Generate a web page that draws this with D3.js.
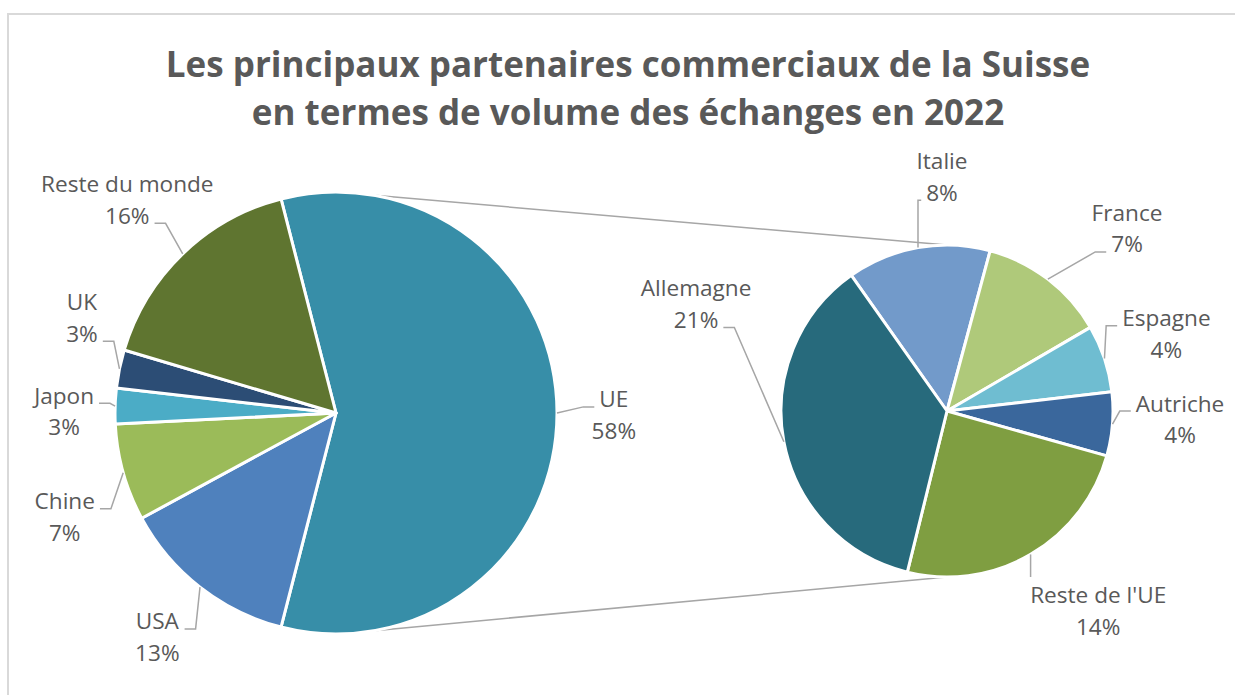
<!DOCTYPE html>
<html>
<head>
<meta charset="utf-8">
<script src="https://cdnjs.cloudflare.com/ajax/libs/d3/7.8.5/d3.min.js"></script>
<style>
    body { margin: 0; background: #fff; }
    svg { display: block; font-family: "Open Sans", "Noto Sans", sans-serif; }
</style>
</head>
<body>
<svg id="chart" width="1235" height="695"></svg>
<script>
// trade volume share 2022, in % of total
var mainNames = ["UE", "USA", "Chine", "Japon", "UK", "Reste du monde"]
var mainValues = [58.0, 13.1, 7.1, 2.6, 2.8, 16.4]
var mainColors = ["#378ea8", "#4f81bd", "#9bbb59", "#4bacc6", "#2c4d75", "#5f7530"]

// the UE slice split up in the second pie
var euNames = ["Italie", "France", "Espagne", "Autriche", "Reste de l'UE", "Allemagne"]
var euValues = [8.1, 7.2, 3.8, 3.6, 14.2, 21.1]
var euColors = ["#729aca", "#afc97a", "#6fbdd1", "#3a679c", "#7f9e41", "#276a7c"]

var titleLines = ["Les principaux partenaires commerciaux de la Suisse",
    "en termes de volume des échanges en 2022"]

// label placement: [angle shift in degrees, distance beyond the pie edge]
var labelShift = {
    "UE": [2.1, 57], "USA": [-0.4, 72], "Chine": [-6.8, 72.5],
    "Japon": [-3.2, 51], "UK": [7.4, 47.5], "Reste du monde": [-1.6, 71.5],
    "Italie": [8.8, 60], "France": [8.5, 84.6], "Espagne": [1, 64],
    "Autriche": [-0.5, 67.6], "Reste de l'UE": [-5.8, 91], "Allemagne": [32.2, 103.7]
}

var textColor = "#595959",
    lineColor = "#a6a6a6",
    lineGap = 31.6

var rad = function (deg) { return deg * Math.PI / 180 }
var polar = function (cx, cy, r, a) { return [cx + r * Math.sin(a), cy - r * Math.cos(a)] }

var svg = d3.select("#chart")

// chart frame
svg.append("rect")
    .attr("x", 8).attr("y", 14)
    .attr("width", 1260).attr("height", 720)
    .attr("fill", "none")
    .attr("stroke", "#d9d9d9")
    .attr("stroke-width", 2)

svg.selectAll(".title")
    .data(titleLines)
    .enter().append("text")
    .attr("class", "title")
    .attr("x", 628)
    .attr("y", function (d, i) { return 77 + i * 48 })
    .attr("text-anchor", "middle")
    .attr("font-size", "35px")
    .attr("font-weight", "bold")
    .attr("fill", textColor)
    .text(function (d) { return d })

var left = { cx: 336, cy: 413, r: 221 },
    right = { cx: 947, cy: 411, r: 166 }

var total = d3.sum(mainValues)

// the UE slice is centred on the right side, like Excel's pie of pie
var mainStart = Math.PI / 2 - Math.PI * mainValues[0] / total
var mainPie = d3.pie().sort(null).value(function (d) { return d })
    .startAngle(mainStart).endAngle(mainStart + 2 * Math.PI)
var euPie = d3.pie().sort(null).value(function (d) { return d })
    .startAngle(rad(-35.2)).endAngle(rad(-35.2) + 2 * Math.PI)

// connector lines between both pies
var links = [[rad(10), 0], [rad(170), Math.PI]]
svg.selectAll(".link")
    .data(links)
    .enter().append("line")
    .attr("class", "link")
    .attr("x1", function (d) { return polar(left.cx, left.cy, left.r, d[0])[0] })
    .attr("y1", function (d) { return polar(left.cx, left.cy, left.r, d[0])[1] })
    .attr("x2", function (d) { return polar(right.cx, right.cy, right.r, d[1])[0] })
    .attr("y2", function (d) { return polar(right.cx, right.cy, right.r, d[1])[1] })
    .attr("stroke", lineColor)
    .attr("stroke-width", 1.5)

function drawPie(names, values, colors, pie, pos) {
    var arc = d3.arc().innerRadius(0).outerRadius(pos.r)
    var g = svg.append("g")
        .attr("transform", "translate(" + pos.cx + "," + pos.cy + ")")

    g.selectAll("path")
        .data(pie(values))
        .enter().append("path")
        .attr("d", arc)
        .attr("fill", function (d, i) { return colors[i] })
        .attr("stroke", "#fff")
        .attr("stroke-width", 3)
        .attr("stroke-linejoin", "round")

    pie(values).forEach(function (d, i) {
        var name = names[i]
        var mid = (d.startAngle + d.endAngle) / 2
        var shift = labelShift[name]
        var c = polar(pos.cx, pos.cy, pos.r + shift[1], mid + rad(shift[0]))
        var rows = [name, Math.round(values[i]) + "%"]
        var baselines = [c[1] - lineGap / 2, c[1] + lineGap / 2]

        var texts = rows.map(function (t, k) {
            return svg.append("text")
                .attr("x", c[0])
                .attr("y", baselines[k])
                .attr("text-anchor", "middle")
                .attr("font-size", "22.6px")
                .attr("fill", textColor)
                .text(t)
        })

        // leader line from the slice edge to the label
        var p = polar(pos.cx, pos.cy, pos.r, mid)
        var k = (c[1] - p[1]) > -20 ? 0 : 1
        var bb = texts[k].node().getBBox()
        var gap = 5, stub = 11
        var pts
        if (p[0] > bb.x + bb.width + gap) {
            var ax = bb.x + bb.width + gap
            pts = [p, [Math.min(p[0], ax + stub), baselines[k] - 0.5], [ax, baselines[k] - 0.5]]
        } else if (p[0] < bb.x - gap) {
            var ax2 = bb.x - gap
            pts = [p, [Math.max(p[0], ax2 - stub), baselines[k] - 0.5], [ax2, baselines[k] - 0.5]]
        } else {
            pts = [p, [p[0], p[1] < baselines[0] ? baselines[0] - 26 : baselines[1] + 8]]
        }
        svg.append("path")
            .attr("d", d3.line()(pts))
            .attr("fill", "none")
            .attr("stroke", lineColor)
            .attr("stroke-width", 1.5)
    })
}

drawPie(mainNames, mainValues, mainColors, mainPie, left)
drawPie(euNames, euValues, euColors, euPie, right)
</script>
</body>
</html>
